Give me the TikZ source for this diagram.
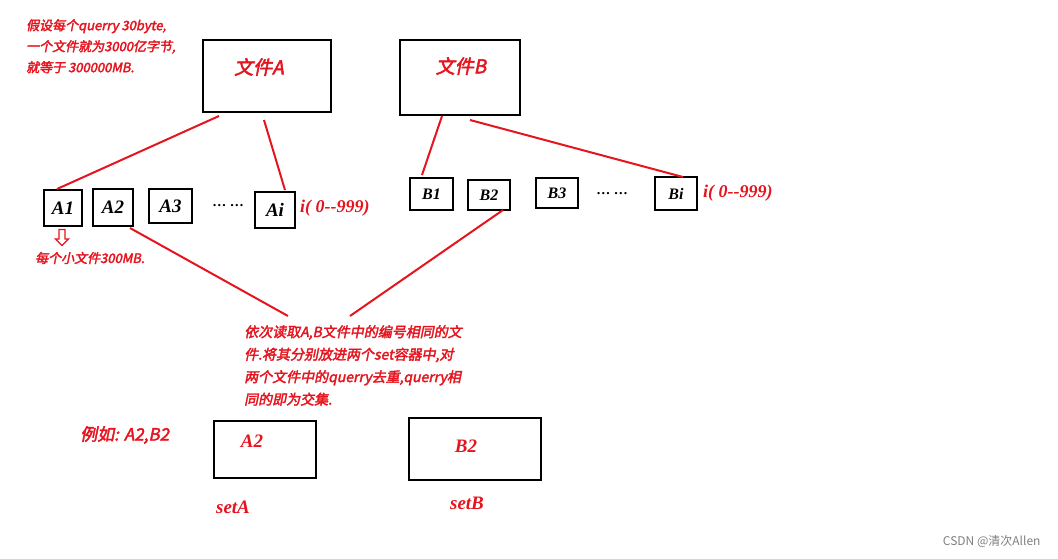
\documentclass[tikz,border=0pt]{standalone}
\usepackage{fontspec}
\setmainfont{Liberation Serif}
\newfontfamily\cjk[FakeSlant=0.2,FakeBold=2.5]{Noto Sans CJK SC}
\newfontfamily\wm{Noto Sans CJK SC}
\usetikzlibrary{shapes.arrows}
\definecolor{rd}{RGB}{230,20,30}
\begin{document}
\begin{tikzpicture}[x=1pt,y=-1pt,
  box/.style={draw=black,line width=2.2pt},
  lk/.style={draw=rd,line width=2pt},
  rt/.style={text=rd,anchor=west,inner sep=0},
  lab/.style={font=\bfseries\itshape\fontsize{19}{19}\selectfont,inner sep=0},
  labs/.style={font=\bfseries\itshape\fontsize{16}{16}\selectfont,inner sep=0}]
\useasboundingbox (0,0) rectangle (1058,558);
\fill[white] (0,0) rectangle (1058,558);
% big boxes
\draw[box] (203,40) rectangle (331,112);
\draw[box] (400,40) rectangle (520,115);
\node[rt,anchor=center,font=\cjk\fontsize{19}{19}\selectfont] at (259,67) {文件A};
\node[rt,anchor=center,font=\cjk\fontsize{19}{19}\selectfont] at (461,66) {文件B};
% small boxes
\draw[box] (44,190) rectangle (82,226) node[pos=.5,lab] (a1) {A1};
\draw[box] (93,189) rectangle (133,226) node[pos=.5,lab] (a2) {A2};
\draw[box] (149,189) rectangle (192,223) node[pos=.5,lab] (a3) {A3};
\node[font=\bfseries\fontsize{14}{14}\selectfont] at (228,206) {… …};
\draw[box] (255,192) rectangle (295,228) node[pos=.5,lab] (ai) {Ai};
\node[rt,font=\bfseries\itshape\fontsize{18}{18}\selectfont] at (300,208) {i( 0-{}-999)};
\draw[box] (410,178) rectangle (453,210) node[pos=.5,labs] {B1};
\draw[box] (468,180) rectangle (510,210) node[pos=.5,labs] {B2};
\draw[box] (536,178) rectangle (578,208) node[pos=.5,labs] {B3};
\node[font=\bfseries\fontsize{14}{14}\selectfont] at (612,194) {… …};
\draw[box] (655,177) rectangle (697,210) node[pos=.5,labs] {Bi};
\node[rt,font=\bfseries\itshape\fontsize{18}{18}\selectfont] at (703,193) {i( 0-{}-999)};
% links
\coordinate (p1) at (219,116); \coordinate (q1) at (57,189);
\coordinate (p2) at (264,120); \coordinate (q2) at (285,190);
\coordinate (p3) at (442,116); \coordinate (q3) at (422,175);
\coordinate (p4) at (470,120); \coordinate (q4) at (683,177);
\coordinate (p5) at (130,228); \coordinate (q5) at (288,316);
\coordinate (p6) at (503,210); \coordinate (q6) at (350,316);
\draw[lk] (p1)--(q1) (p2)--(q2) (p3)--(q3) (p4)--(q4) (p5)--(q5) (p6)--(q6);
% arrow
\node[single arrow,draw=rd,line width=1.3pt,shape border rotate=270,minimum width=13pt,single arrow head extend=2pt,minimum height=16pt,inner sep=1pt] (ar) at (62,236) {};
% texts
\node[rt,font=\cjk\fontsize{13}{21}\selectfont,align=left,anchor=north west] at (26,19) {假设每个querry 30byte,\\一个文件就为3000亿字节,\\就等于 300000MB.};
\node[rt,font=\cjk\fontsize{13}{13}\selectfont] at (35,258) {每个小文件300MB.};
\node[rt,font=\cjk\fontsize{14}{22.5}\selectfont,align=left,anchor=north west] at (244,325) {依次读取A,B文件中的编号相同的文\\件.将其分别放进两个set容器中,对\\两个文件中的querry去重,querry相\\同的即为交集.};
\node[rt,font=\cjk\fontsize{17}{17}\selectfont] at (80,435) {例如: A2,B2};
\draw[box] (214,421) rectangle (316,478);
\draw[box] (409,418) rectangle (541,480);
\node[rt,anchor=center,font=\bfseries\itshape\fontsize{19}{19}\selectfont] at (252,441) {A2};
\node[rt,anchor=center,font=\bfseries\itshape\fontsize{19}{19}\selectfont] at (466,446) {B2};
\node[rt,anchor=center,font=\bfseries\itshape\fontsize{19}{19}\selectfont] at (233,507) {setA};
\node[rt,anchor=center,font=\bfseries\itshape\fontsize{19}{19}\selectfont] at (467,503) {setB};
\node[text=black!50,font=\wm\fontsize{12}{12}\selectfont,anchor=east] at (1044,541) {CSDN @清次Allen};
\end{tikzpicture}
\end{document}
